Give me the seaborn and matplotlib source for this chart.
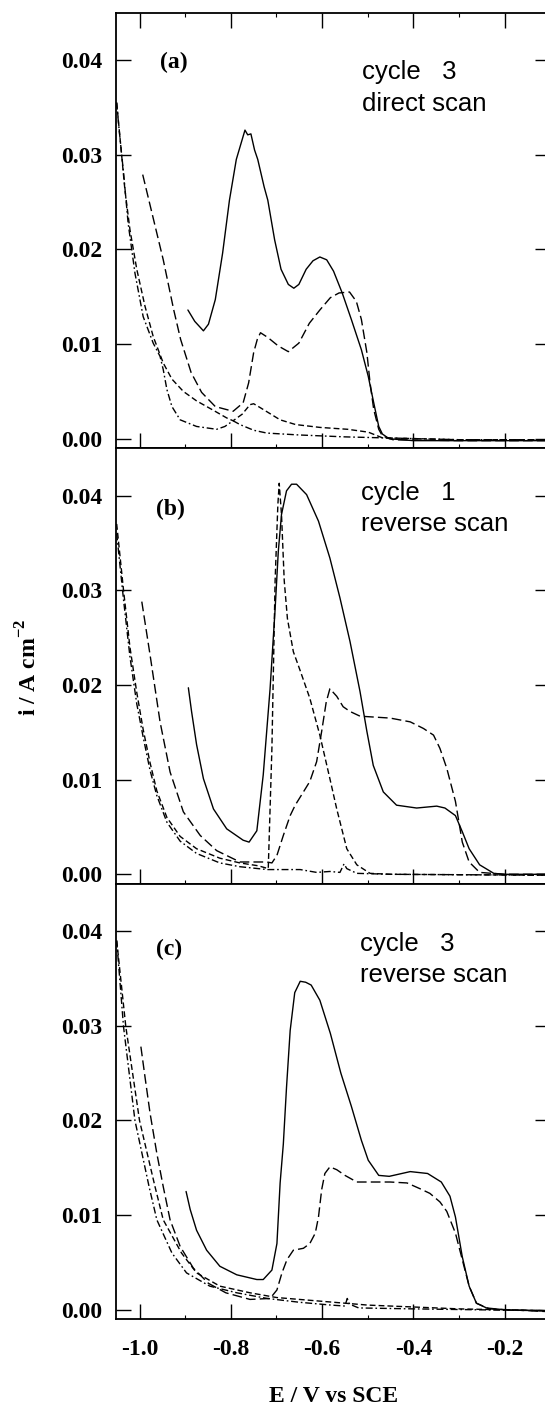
import matplotlib
matplotlib.use("Agg")
import matplotlib.pyplot as plt
import pandas as pd
import seaborn as sns
from matplotlib.ticker import FixedLocator, FixedFormatter, MultipleLocator

# ---------------- data (E / V vs SCE, i / A cm^-2) ----------------
# panel (a): cycle 3, direct scan
a_solid_E = [-0.894, -0.879, -0.860, -0.849, -0.834, -0.818, -0.803, -0.788, -0.769, -0.763, -0.756, -0.748,
             -0.741, -0.727, -0.719, -0.704, -0.690, -0.674, -0.662, -0.651, -0.635, -0.620, -0.605, -0.590,
             -0.575, -0.556, -0.536, -0.514, -0.499, -0.487, -0.476, -0.468, -0.453, -0.40, -0.30, -0.20, -0.10]
a_solid_i = [0.0136, 0.0124, 0.0114, 0.0121, 0.0147, 0.0196, 0.0252, 0.0295, 0.0326, 0.0321, 0.0322, 0.0305,
             0.0295, 0.0266, 0.0252, 0.0210, 0.0179, 0.0163, 0.0159, 0.0163, 0.0179, 0.0188, 0.0192, 0.0189,
             0.0177, 0.0154, 0.0126, 0.0094, 0.0066, 0.0038, 0.0013, 0.0005, 0.0, -0.0002, -0.0002, -0.0002, -0.0002]
a_long_E = [-0.993, -0.971, -0.948, -0.925, -0.910, -0.887, -0.864, -0.834, -0.795, -0.773, -0.761, -0.750,
            -0.742, -0.735, -0.719, -0.696, -0.674, -0.651, -0.628, -0.605, -0.582, -0.563, -0.540, -0.525,
            -0.514, -0.502, -0.495, -0.487, -0.476, -0.468, -0.445, -0.30, -0.10]
a_long_i = [0.0279, 0.0235, 0.0189, 0.0136, 0.0105, 0.0070, 0.0049, 0.0034, 0.0029, 0.0038, 0.0059, 0.0091,
            0.0105, 0.0112, 0.0107, 0.0098, 0.0092, 0.0101, 0.0122, 0.0136, 0.0149, 0.0154, 0.0155, 0.0145,
            0.0126, 0.0091, 0.0059, 0.0031, 0.0010, 0.0003, -0.0001, -0.0002, -0.0002]
a_med_E = [-1.050, -1.032, -1.021, -1.006, -0.988, -0.970, -0.948, -0.929, -0.904, -0.875, -0.838, -0.809,
           -0.795, -0.775, -0.758, -0.750, -0.736, -0.692, -0.658, -0.605, -0.544, -0.499, -0.468, -0.30, -0.10]
a_med_i = [0.0355, 0.0263, 0.0221, 0.0179, 0.0140, 0.0108, 0.0080, 0.0063, 0.0050, 0.0040, 0.0030, 0.0022,
           0.0019, 0.0026, 0.0036, 0.0037, 0.0033, 0.0020, 0.0015, 0.0012, 0.0010, 0.0007, 0.0001, -0.0001, -0.0001]
a_dd_E = [-1.050, -1.046, -1.035, -1.025, -1.010, -0.992, -0.970, -0.955, -0.948, -0.940, -0.929, -0.911,
          -0.875, -0.831, -0.813, -0.795, -0.780, -0.750, -0.721, -0.65, -0.55, -0.47, -0.30, -0.10]
a_dd_i = [0.0355, 0.0333, 0.0281, 0.0228, 0.0175, 0.0129, 0.0101, 0.0087, 0.0073, 0.0052, 0.0034, 0.0020,
          0.0013, 0.0010, 0.0013, 0.0019, 0.0015, 0.0009, 0.0006, 0.0004, 0.0002, 0.0001, -0.0001, -0.0001]

# panel (b): cycle 1, reverse scan
b_solid_E = [-0.893, -0.886, -0.875, -0.860, -0.838, -0.809, -0.773, -0.760, -0.743, -0.729, -0.714, -0.703,
             -0.696, -0.689, -0.678, -0.667, -0.656, -0.634, -0.608, -0.583, -0.561, -0.539, -0.517, -0.502,
             -0.488, -0.466, -0.437, -0.393, -0.349, -0.331, -0.308, -0.293, -0.278, -0.255, -0.224, -0.200, -0.10]
b_solid_i = [0.0197, 0.0172, 0.0137, 0.0101, 0.0069, 0.0048, 0.0036, 0.0034, 0.0046, 0.0105, 0.0196, 0.0280,
             0.0341, 0.0380, 0.0405, 0.0412, 0.0412, 0.0401, 0.0373, 0.0334, 0.0292, 0.0246, 0.0193, 0.0151,
             0.0115, 0.0087, 0.0073, 0.0070, 0.0072, 0.0070, 0.0062, 0.0045, 0.0027, 0.0010, 0.0001, 0.0, 0.0]
b_long_E = [-0.995, -0.977, -0.955, -0.933, -0.904, -0.867, -0.831, -0.780, -0.721, -0.710, -0.699, -0.685,
            -0.670, -0.659, -0.641, -0.627, -0.612, -0.601, -0.591, -0.583, -0.568, -0.554, -0.539, -0.517,
            -0.451, -0.407, -0.378, -0.356, -0.342, -0.327, -0.308, -0.293, -0.278, -0.255, -0.20, -0.10]
b_long_i = [0.0288, 0.0232, 0.0161, 0.0108, 0.0066, 0.0041, 0.0025, 0.0013, 0.0013, 0.0012, 0.0020, 0.0041,
            0.0062, 0.0073, 0.0087, 0.0098, 0.0119, 0.0151, 0.0182, 0.0196, 0.0188, 0.0177, 0.0172, 0.0167,
            0.0165, 0.0161, 0.0154, 0.0147, 0.0133, 0.0112, 0.0077, 0.0034, 0.0013, 0.0002, 0.0, 0.0]
b_med_E = [-1.050, -1.035, -1.021, -1.006, -0.992, -0.977, -0.962, -0.940, -0.911, -0.875, -0.824, -0.780,
           -0.740, -0.718, -0.710, -0.703, -0.697, -0.694, -0.689, -0.683, -0.676, -0.663, -0.648, -0.627,
           -0.605, -0.583, -0.568, -0.546, -0.524, -0.495, -0.45, -0.10]
b_med_i = [0.0370, 0.0300, 0.0240, 0.0192, 0.0153, 0.0118, 0.0088, 0.0060, 0.0040, 0.0027, 0.0017, 0.0012,
           0.0009, 0.0006, 0.0133, 0.0310, 0.0390, 0.0413, 0.0380, 0.0310, 0.0270, 0.0235, 0.0215, 0.0186,
           0.0147, 0.0101, 0.0069, 0.0027, 0.0010, 0.0001, 0.0, -0.0001]
b_dd_E = [-1.050, -1.035, -1.021, -1.006, -0.992, -0.977, -0.962, -0.940, -0.911, -0.875, -0.824, -0.780,
          -0.720, -0.648, -0.612, -0.583, -0.561, -0.552, -0.546, -0.524, -0.45, -0.10]
b_dd_i = [0.0360, 0.0290, 0.0230, 0.0180, 0.0145, 0.0110, 0.0083, 0.0055, 0.0035, 0.0022, 0.0012, 0.0008,
          0.0005, 0.0005, 0.0002, 0.0003, 0.0002, 0.0011, 0.0006, 0.0001, 0.0, -0.0001]

# panel (c): cycle 3, reverse scan
c_solid_E = [-0.898, -0.889, -0.875, -0.853, -0.824, -0.787, -0.743, -0.729, -0.710, -0.699, -0.692, -0.685,
             -0.678, -0.670, -0.660, -0.648, -0.636, -0.624, -0.605, -0.582, -0.559, -0.536, -0.514, -0.499,
             -0.476, -0.453, -0.407, -0.369, -0.339, -0.320, -0.308, -0.293, -0.278, -0.262, -0.240, -0.200, -0.10]
c_solid_i = [0.0125, 0.0106, 0.0084, 0.0063, 0.0046, 0.0037, 0.0032, 0.0032, 0.0042, 0.0070, 0.0134, 0.0175,
             0.0235, 0.0295, 0.0335, 0.0347, 0.0346, 0.0343, 0.0327, 0.0292, 0.0250, 0.0215, 0.0179, 0.0158,
             0.0142, 0.0141, 0.0146, 0.0144, 0.0135, 0.0120, 0.0098, 0.0056, 0.0025, 0.0007, 0.0002, 0.0, -0.0001]
c_long_E = [-0.997, -0.988, -0.977, -0.962, -0.948, -0.933, -0.911, -0.882, -0.849, -0.811, -0.758, -0.714,
            -0.699, -0.688, -0.677, -0.663, -0.641, -0.627, -0.615, -0.608, -0.601, -0.594, -0.583, -0.568,
            -0.550, -0.524, -0.480, -0.451, -0.414, -0.386, -0.364, -0.342, -0.327, -0.308, -0.293, -0.278,
            -0.262, -0.234, -0.10]
c_long_i = [0.0278, 0.0246, 0.0208, 0.0165, 0.0130, 0.0095, 0.0067, 0.0044, 0.0028, 0.0018, 0.0011, 0.0012,
            0.0021, 0.0039, 0.0053, 0.0063, 0.0065, 0.0070, 0.0081, 0.0098, 0.0127, 0.0144, 0.0151, 0.0148,
            0.0142, 0.0135, 0.0135, 0.0135, 0.0134, 0.0128, 0.0123, 0.0114, 0.0104, 0.0081, 0.0053, 0.0025,
            0.0007, 0.0001, -0.0002]
c_med_E = [-1.050, -1.030, -1.000, -0.966, -0.948, -0.908, -0.875, -0.824, -0.758, -0.70, -0.60, -0.50,
           -0.40, -0.30, -0.10]
c_med_i = [0.0390, 0.0299, 0.0200, 0.0130, 0.0095, 0.0060, 0.0039, 0.0025, 0.0018, 0.0013, 0.0009, 0.0005,
           0.0003, 0.0001, -0.0001]
c_dd_E = [-1.050, -1.035, -1.010, -0.979, -0.962, -0.929, -0.897, -0.846, -0.787, -0.72, -0.65, -0.58,
          -0.550, -0.545, -0.540, -0.520, -0.40, -0.25, -0.10]
c_dd_i = [0.0390, 0.0299, 0.0200, 0.0130, 0.0095, 0.0060, 0.0039, 0.0025, 0.0018, 0.0012, 0.0008, 0.0005,
          0.0004, 0.0012, 0.0006, 0.0002, 0.0001, 0.0, -0.0001]

panel_tags = ["(a)", "(b)", "(c)"]
panel_notes = [["cycle   3", "direct scan"], ["cycle   1", "reverse scan"], ["cycle   3", "reverse scan"]]
x_ticks = [-1.0, -0.8, -0.6, -0.4, -0.2]
x_tick_labels = ["-1.0", "-0.8", "-0.6", "-0.4", "-0.2"]
y_ticks = [0.00, 0.01, 0.02, 0.03, 0.04]
y_tick_labels = ["0.00", "0.01", "0.02", "0.03", "0.04"]

panels = [
    {"solid": (a_solid_E, a_solid_i), "long": (a_long_E, a_long_i),
     "medium": (a_med_E, a_med_i), "dashdot": (a_dd_E, a_dd_i)},
    {"solid": (b_solid_E, b_solid_i), "long": (b_long_E, b_long_i),
     "medium": (b_med_E, b_med_i), "dashdot": (b_dd_E, b_dd_i)},
    {"solid": (c_solid_E, c_solid_i), "long": (c_long_E, c_long_i),
     "medium": (c_med_E, c_med_i), "dashdot": (c_dd_E, c_dd_i)},
]

# ---------------- style ----------------
sns.set_theme(style="ticks")
plt.rcParams["font.family"] = ["Liberation Serif", "DejaVu Serif"]
plt.rcParams["font.weight"] = "bold"
plt.rcParams["mathtext.fontset"] = "custom"
plt.rcParams["mathtext.rm"] = "Liberation Serif:bold"
plt.rcParams["mathtext.bf"] = "Liberation Serif:bold"
plt.rcParams["axes.unicode_minus"] = False
for k in ["axes.edgecolor", "xtick.color", "ytick.color", "text.color", "axes.labelcolor"]:
    plt.rcParams[k] = "black"

W, H = 545, 1405
fig = plt.figure(figsize=(W / 100, H / 100), dpi=100)

left_px, right_px = 116, 550.4
top_px, bot_px = 12.7, 1319.3
ph = (bot_px - top_px) / 3.0

curve_order = ["solid", "long", "medium", "dashdot"]
palette = {k: "black" for k in curve_order}
dashes = {"solid": "", "long": (7, 3), "medium": (4.2, 2.2), "dashdot": (5, 2, 1.2, 2)}

axes = []
for p in range(3):
    y_top = top_px + p * ph
    ax = fig.add_axes([left_px / W, 1 - (y_top + ph) / H, (right_px - left_px) / W, ph / H])
    axes.append(ax)
    rows = []
    for name in curve_order:
        E, I = panels[p][name]
        rows.append(pd.DataFrame({"E": E, "i": I, "curve": name}))
    df = pd.concat(rows, ignore_index=True)
    sns.lineplot(data=df, x="E", y="i", hue="curve", style="curve", hue_order=curve_order,
                 style_order=curve_order, palette=palette, dashes=dashes, sort=False,
                 estimator=None, linewidth=1.0, legend=False, ax=ax)
    ax.set_xlim(-1.0515, -0.1)
    ax.set_ylim(-0.001, 0.045)
    ax.set_xlabel("")
    ax.set_ylabel("")
    ax.xaxis.set_major_locator(FixedLocator(x_ticks))
    ax.xaxis.set_minor_locator(MultipleLocator(0.1))
    ax.yaxis.set_major_locator(FixedLocator(y_ticks))
    ax.yaxis.set_major_formatter(FixedFormatter(y_tick_labels))
    ax.tick_params(axis="both", which="major", direction="in", length=11, width=1.0,
                   right=True, top=(p == 0), labelsize=17)
    ax.tick_params(axis="x", which="minor", direction="in", length=3, width=0.8, top=(p == 0))
    ax.tick_params(axis="y", which="major", pad=10)
    if p == 2:
        ax.xaxis.set_major_formatter(FixedFormatter(x_tick_labels))
        ax.tick_params(axis="x", which="major", pad=14)
    else:
        ax.tick_params(axis="x", labelbottom=False)
    for s in ax.spines.values():
        s.set_linewidth(1.3)
        s.set_color("black")


def ftxt(px, py, s, **kw):
    fig.text(px / W, 1 - py / H, s, **kw)


tag_pos = [(160, 68), (156, 515), (156, 955)]
note_pos = [(361.7, 79.3, 111), (361, 500, 530.7), (360, 950.7, 981.7)]
for p in range(3):
    ftxt(tag_pos[p][0], tag_pos[p][1], panel_tags[p], fontsize=17, fontweight="bold",
         ha="left", va="baseline")
    nx, ny1, ny2 = note_pos[p]
    ftxt(nx, ny1, panel_notes[p][0], fontsize=18.5, fontweight="normal", family="Liberation Sans",
         ha="left", va="baseline")
    ftxt(nx, ny2, panel_notes[p][1], fontsize=18.5, fontweight="normal", family="Liberation Sans",
         ha="left", va="baseline")

ftxt(29, 667, r"i / A cm$^{\mathbf{-2}}$", fontsize=17, fontweight="bold", rotation=90,
     ha="center", va="center")
ftxt(334, 1397, "E / V vs SCE", fontsize=17, fontweight="bold", ha="center", va="center")

fig.savefig("out.png", dpi=100)
